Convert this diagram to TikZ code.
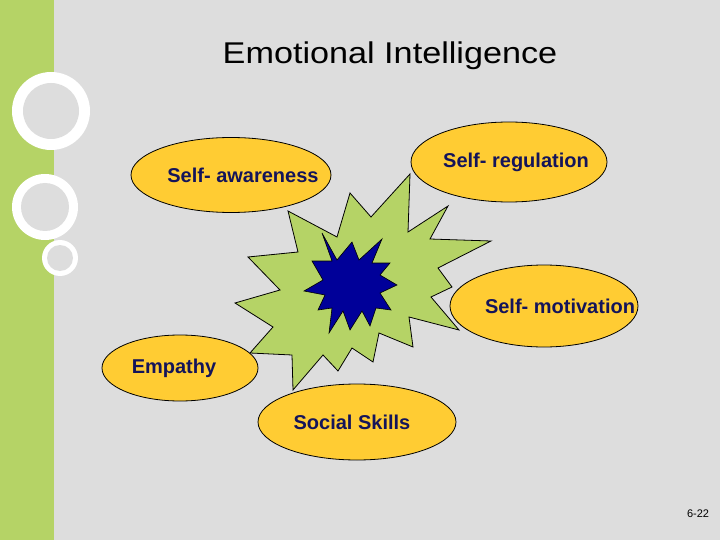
\documentclass[tikz,border=0pt]{standalone}
\usepackage{fontspec}
\setmainfont{Liberation Sans}
\usepackage{xcolor}
\definecolor{eibg}{RGB}{221,221,221}
\definecolor{eigreen}{RGB}{181,211,102}
\definecolor{eiyellow}{RGB}{255,204,51}
\definecolor{einavy}{RGB}{0,0,153}
\definecolor{eitext}{RGB}{20,20,90}
\usetikzlibrary{shapes.geometric,positioning}

\begin{document}
\begin{tikzpicture}[x=1pt, y=-1pt,
  trait/.style={ellipse, draw=black, line width=0.8pt, fill=eiyellow, inner sep=0pt},
  traittext/.style={text=eitext, font=\fontsize{20}{24}\selectfont\bfseries, inner sep=0pt},
  ring/.style={circle, fill=white, inner sep=0pt},
  ringhole/.style={circle, fill=eibg, inner sep=0pt}]

% Slide background and side bar
\fill[eibg] (0,0) rectangle (720,540);
\fill[eigreen] (0,0) rectangle (54,540);
\useasboundingbox (0,0) rectangle (720,540);

% Rings on the side bar
\node[ring, minimum size=78pt] (ringa) at (51,111) {};
\node[ringhole, minimum size=56pt] at (ringa) {};
\node[ring, minimum size=66pt] (ringb) at (45,207) {};
\node[ringhole, minimum size=48pt] at (ringb) {};
\node[ring, minimum size=36pt] (ringc) at (60,258) {};
\node[ringhole, minimum size=26pt] at (ringc) {};

% Title
\node[font=\fontsize{30}{36}\selectfont, xscale=1.14] (title) at (390,56) {Emotional Intelligence};

% Green burst
\draw[fill=eigreen, line width=0.8pt, line join=miter]
  (410,174) -- (408,232) -- (448,206) -- (430,239) -- (491,241) -- (438,268)
  -- (452,287) -- (431,297) -- (459,330) -- (409,317) -- (413,347) -- (379,333)
  -- (373,362) -- (352,348) -- (338,371) -- (323,355) -- (293,390) -- (292,355)
  -- (250,353) -- (273,327) -- (235,303) -- (280,290) -- (248,257) -- (298,252)
  -- (288,211) -- (337,237) -- (350,193) -- (371,217) -- cycle;

% Blue burst
\draw[fill=einavy, line width=0.6pt]
  (322,233) -- (337,260) -- (352,242) -- (359,260) -- (382,239) -- (372,263)
  -- (390,263) -- (380,275) -- (397,285) -- (380,293) -- (391,310) -- (376,308)
  -- (370,326) -- (362,311) -- (350,330) -- (343,311) -- (329,333) -- (332,308)
  -- (318,310) -- (325,295) -- (304,291) -- (323,280) -- (312,261) -- (332,261) -- cycle;

% Traits
\node[trait, minimum width=200pt, minimum height=75pt] (aware) at (231,175) {};
\node[traittext] at ([xshift=12pt]aware.center) {Self- awareness};

\node[trait, minimum width=196pt, minimum height=80pt] (regul) at (509,162) {};
\node[traittext] at ([xshift=7pt]regul.center) {Self- regulation};

\node[trait, minimum width=188pt, minimum height=82pt] (motiv) at (544,306) {};
\node[traittext] at ([xshift=16pt]motiv.center) {Self- motivation};

\node[trait, minimum width=156pt, minimum height=66pt] (empathy) at (180,368) {};
\node[traittext] at ([xshift=-6pt]empathy.center) {Empathy};

\node[trait, minimum width=198pt, minimum height=76pt] (social) at (357,422) {};
\node[traittext] at ([xshift=-5pt]social.center) {Social Skills};

% Page number
\node[font=\fontsize{11}{13}\selectfont] (page) at (698,514) {6-22};

\end{tikzpicture}
\end{document}
